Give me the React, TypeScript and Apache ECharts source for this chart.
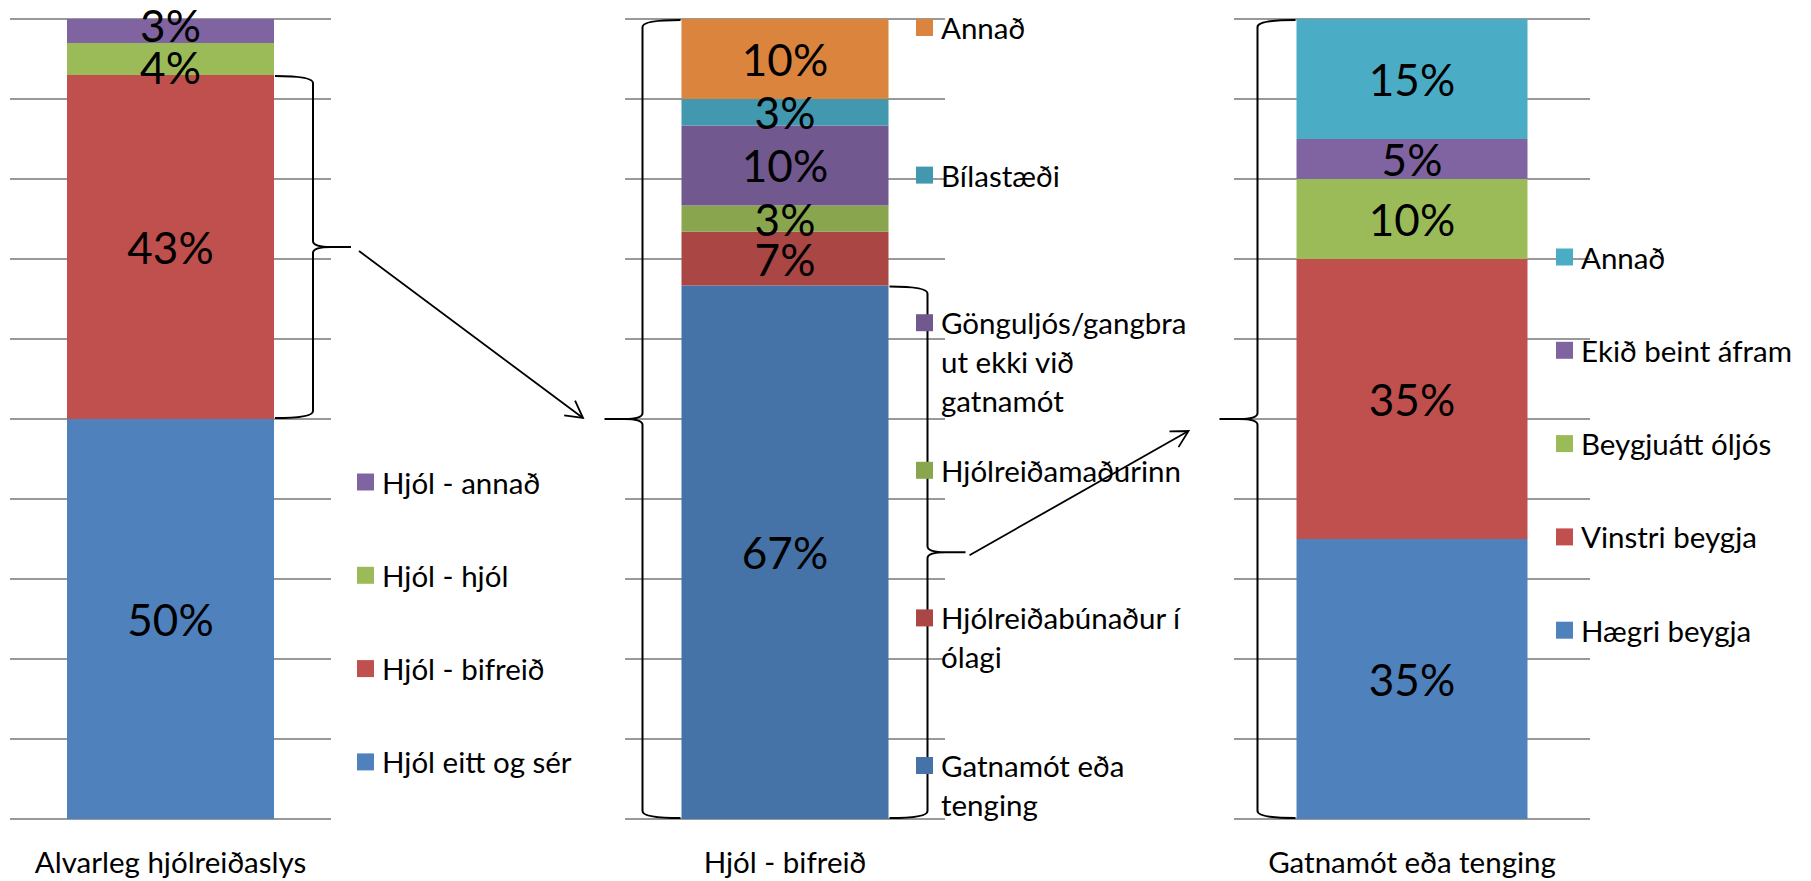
import React, { useEffect, useRef } from "react";
import * as echarts from "echarts";

// ---------- DATA ----------
const chart1Category = ["Alvarleg hjólreiðaslys"];
const chart1Series = ["Hjól eitt og sér", "Hjól - bifreið", "Hjól - hjól", "Hjól - annað"];
const chart1LegendLabels = ["Hjól eitt og sér", "Hjól - bifreið", "Hjól - hjól", "Hjól - annað"];
const chart1Values = [50, 43, 4, 3];
const chart1Colors = ["#4F81BD", "#C0504D", "#9BBB59", "#8064A2"];

const chart2Category = ["Hjól - bifreið"];
const chart2Series = [
  "Gatnamót eða tenging",
  "Hjólreiðabúnaður í ólagi",
  "Hjólreiðamaðurinn",
  "Gönguljós/gangbraut ekki við gatnamót",
  "Bílastæði",
  "Annað",
];
const chart2LegendLabels = [
  "Gatnamót eða\ntenging",
  "Hjólreiðabúnaður í\nólagi",
  "Hjólreiðamaðurinn",
  "Gönguljós/gangbra\nut ekki við\ngatnamót",
  "Bílastæði",
  "Annað",
];
const chart2Values = [66.7, 6.7, 3.3, 10, 3.3, 10];
const chart2Colors = ["#4572A7", "#AA4643", "#89A54E", "#71588F", "#4198AF", "#DB843D"];

const chart3Category = ["Gatnamót eða tenging"];
const chart3Series = ["Hægri beygja", "Vinstri beygja", "Beygjuátt óljós", "Ekið beint áfram", "Annað"];
const chart3LegendLabels = ["Hægri beygja", "Vinstri beygja", "Beygjuátt óljós", "Ekið beint áfram", "Annað"];
const chart3Values = [35, 35, 10, 5, 15];
const chart3Colors = ["#4F81BD", "#C0504D", "#9BBB59", "#8064A2", "#4BACC6"];

const yTicks = { min: 0, max: 100, interval: 10 };

// ---------- LAYOUT ----------
const FONT = "Lato";
const TEXT_SIZE = 29.5;
const LABEL_SIZE = 44;
const panels = [
  {
    cat: chart1Category, names: chart1Series, legend: chart1LegendLabels, values: chart1Values, colors: chart1Colors,
    left: 10, width: 321, barWidth: 207, legendX: 357, legendY: 482, legendStep: 93.3,
    labelDy: [0, 0, 8, -6.5],
  },
  {
    cat: chart2Category, names: chart2Series, legend: chart2LegendLabels, values: chart2Values, colors: chart2Colors,
    left: 625, width: 320, barWidth: 207, legendX: 916, legendY: 27.5, legendStep: 147.6,
    labelDy: [0, 0, 0, 0, 0, 0],
  },
  {
    cat: chart3Category, names: chart3Series, legend: chart3LegendLabels, values: chart3Values, colors: chart3Colors,
    left: 1234, width: 356, barWidth: 231, legendX: 1556, legendY: 257, legendStep: 93.3,
    labelDy: [0, 0, 0, 0, 0],
  },
];
const GRID_TOP = 19;
const GRID_HEIGHT = 800;

// braces: panel, side (+1 right / -1 left), segment range
const braces = [
  { panel: 0, side: 1, first: 1, last: 1 },
  { panel: 1, side: -1, first: 0, last: 5 },
  { panel: 1, side: 1, first: 0, last: 0 },
  { panel: 2, side: -1, first: 0, last: 4 },
];

export default function App() {
  const ref = useRef<HTMLDivElement>(null);

  useEffect(() => {
    document.body.style.margin = "0";
    const el = ref.current;
    if (!el) return;
    const chart = echarts.init(el, null, { renderer: "svg" });

    const grids = panels.map((p) => ({ left: p.left, width: p.width, top: GRID_TOP, height: GRID_HEIGHT }));
    const xAxes = panels.map((p, i) => ({
      type: "category",
      gridIndex: i,
      data: p.cat,
      axisLine: { show: false },
      axisTick: { show: false },
      axisLabel: { fontFamily: FONT, fontSize: TEXT_SIZE, color: "#000", margin: 27 },
    }));
    const yAxes = panels.map((p, i) => ({
      type: "value",
      gridIndex: i,
      min: yTicks.min,
      max: yTicks.max,
      interval: yTicks.interval,
      axisLabel: { show: false },
      axisLine: { show: false },
      axisTick: { show: false },
      splitLine: { show: true, lineStyle: { color: "#999999", width: 2 } },
    }));
    const series: any[] = [];
    panels.forEach((p, i) => {
      p.names.forEach((name, j) => {
        series.push({
          type: "bar",
          name,
          xAxisIndex: i,
          yAxisIndex: i,
          stack: "stack" + i,
          barWidth: p.barWidth,
          data: [p.values[j]],
          itemStyle: { color: p.colors[j] },
          label: {
            show: true,
            position: "inside",
            formatter: (q: any) => Math.round(q.value) + "%",
            fontFamily: FONT,
            fontSize: LABEL_SIZE,
            color: "#000",
            offset: [0, p.labelDy[j]],
          },
        });
      });
    });

    chart.setOption({
      animation: false,
      grid: grids,
      xAxis: xAxes,
      yAxis: yAxes,
      series,
    });

    // ---------- annotations computed from the axes ----------
    const graphics: any[] = [];
    const tips: number[][] = [];
    braces.forEach((b, bi) => {
      const p = panels[b.panel];
      let lo = 0;
      for (let k = 0; k < b.first; k++) lo += p.values[k];
      let hi = lo;
      for (let k = b.first; k <= b.last; k++) hi += p.values[k];
      const c0 = chart.convertToPixel({ gridIndex: b.panel } as any, [0, lo]) as number[];
      const c1 = chart.convertToPixel({ gridIndex: b.panel } as any, [0, hi]) as number[];
      const dir = b.side;
      const x0 = c0[0] + dir * (p.barWidth / 2 + 1);
      const y1 = c0[1] - 1;
      const y0 = c1[1] + 1;
      const xv = x0 + dir * 38;
      const xt = x0 + dir * 76;
      const ym = (y0 + y1) / 2;
      const r = 7;
      const rt = 6;
      const c = 18;
      const d =
        `M${x0},${y0} Q${xv},${y0} ${xv},${y0 + r} L${xv},${ym - rt} Q${xv},${ym} ${xv + dir * c},${ym} L${xt},${ym} ` +
        `M${xv + dir * c},${ym} Q${xv},${ym} ${xv},${ym + rt} L${xv},${y1 - r} Q${xv},${y1} ${x0},${y1}`;
      const shapeName = "brace" + bi;
      echarts.graphic.registerShape(shapeName, (echarts.graphic as any).extendPath(d, {}));
      graphics.push({
        type: shapeName,
        x: 0,
        y: 0,
        z: 100,
        style: { stroke: "#000", fill: "none", lineWidth: 2 },
      });
      tips.push([xt, ym]);
    });

    const arrow = (sx: number, sy: number, ex: number, ey: number) => {
      const ang = Math.atan2(ey - sy, ex - sx);
      const len = 19;
      const spread = 0.5;
      const a1 = [ex - len * Math.cos(ang - spread), ey - len * Math.sin(ang - spread)];
      const a2 = [ex - len * Math.cos(ang + spread), ey - len * Math.sin(ang + spread)];
      graphics.push({
        type: "line",
        z: 100,
        shape: { x1: sx, y1: sy, x2: ex, y2: ey },
        style: { stroke: "#000", lineWidth: 1.8 },
      });
      graphics.push({
        type: "polyline",
        z: 100,
        shape: { points: [a1, [ex, ey], a2] },
        style: { stroke: "#000", lineWidth: 1.8, fill: "none" },
      });
    };
    arrow(tips[0][0] + 8, tips[0][1] + 4, tips[1][0] - 21.5, tips[1][1] - 1);
    arrow(tips[2][0] + 4, tips[2][1] + 3, tips[3][0] - 31, tips[3][1] + 12);

    // legends (top to bottom = reverse of stacking order)
    panels.forEach((p) => {
      const n = p.names.length;
      for (let k = 0; k < n; k++) {
        const j = n - 1 - k;
        const yc = p.legendY + k * p.legendStep;
        graphics.push({
          type: "rect",
          z: 100,
          shape: { x: p.legendX, y: yc - 8.5, width: 17, height: 17 },
          style: { fill: p.colors[j] },
        });
        graphics.push({
          type: "text",
          z: 100,
          x: p.legendX + 25,
          y: yc - 19.5,
          style: {
            text: p.legend[j],
            fontFamily: FONT,
            fontSize: TEXT_SIZE,
            lineHeight: 39,
            fill: "#000",
            align: "left",
            verticalAlign: "top",
          },
        });
      }
    });

    chart.setOption({ graphic: graphics });

    return () => {
      chart.dispose();
    };
  }, []);

  return <div ref={ref} style={{ width: 1811, height: 881 }} />;
}
